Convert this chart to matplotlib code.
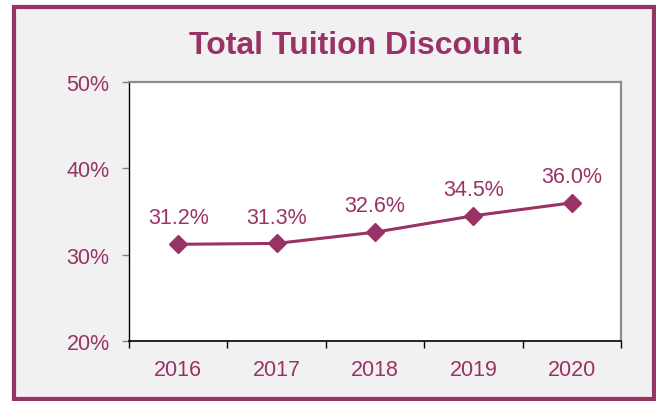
import matplotlib.pyplot as plt
from matplotlib.patches import Rectangle

plt.rcParams['font.family'] = ['Liberation Sans', 'DejaVu Sans']

years = ['2016', '2017', '2018', '2019', '2020']
discount = [31.2, 31.3, 32.6, 34.5, 36.0]
y_ticks = [20, 30, 40, 50]
y_labels = ['20%', '30%', '40%', '50%']

maroon = '#993366'

fig = plt.figure(figsize=(6.56, 4.02), dpi=100, facecolor='white')
# outer frame, behind the axes
frame = Rectangle((0.0213, 0.005), 0.9757, 0.975, transform=fig.transFigure,
                  facecolor='#f1f1f1', edgecolor=maroon, linewidth=3, zorder=-10)
fig.add_artist(frame)

ax = fig.add_axes([0.1966, 0.1493, 0.75, 0.6443])
ax.set_facecolor('white')
x = list(range(len(years)))
ax.plot(x, discount, color=maroon, lw=2.2, marker='D', markersize=9, zorder=3)
for xi, v in zip(x, discount):
    ax.annotate(f'{v:.1f}%', (xi, v), xytext=(0, 19), textcoords='offset points',
                ha='center', va='center', fontsize=15.5, color=maroon)

ax.set_xlim(-0.5, 4.5)
ax.set_ylim(20, 50)
ax.set_yticks(y_ticks)
ax.set_yticklabels(y_labels, fontsize=15.5, color=maroon)
ax.set_xticks([i - 0.5 for i in range(len(years) + 1)], minor=False)
ax.set_xticklabels([])
ax.set_xticks(x, minor=True)
ax.set_xticklabels(years, minor=True, fontsize=15.5, color=maroon)
ax.tick_params(axis='x', which='minor', length=0, pad=13)
ax.tick_params(axis='x', which='major', length=5, width=1, color='black', direction='out')
ax.tick_params(axis='y', length=5, width=1, color='#808080', direction='out', pad=9)

ax.spines['left'].set_color('black')
ax.spines['bottom'].set_color('black')
ax.spines['top'].set_color('#8c8c8c')
ax.spines['right'].set_color('#8c8c8c')
ax.spines['top'].set_linewidth(1.6)
ax.spines['right'].set_linewidth(1.6)
ax.spines['left'].set_linewidth(1.0)
ax.spines['bottom'].set_linewidth(1.2)

fig.text(0.541, 0.885, 'Total Tuition Discount', ha='center', va='center',
         fontsize=23, fontweight='bold', color=maroon)

fig.savefig('out.png', dpi=100, facecolor=fig.get_facecolor())
